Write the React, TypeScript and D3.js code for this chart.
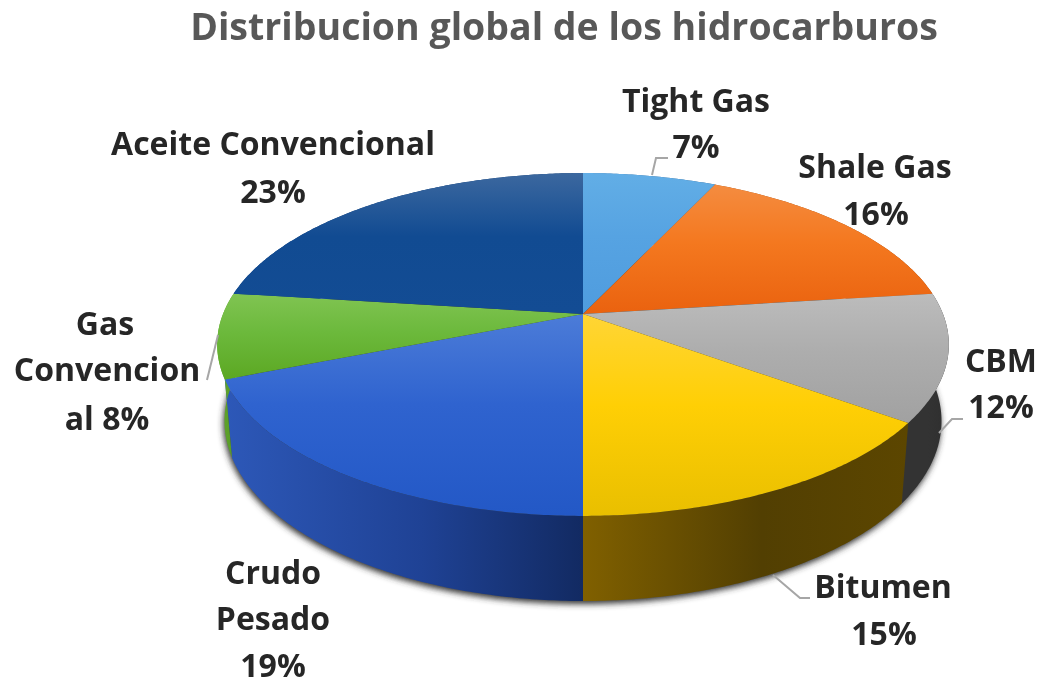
import React from "react";
import * as d3 from "d3";

const categories = ["Tight Gas", "Shale Gas", "CBM", "Bitumen", "Crudo Pesado", "Gas Convencional", "Aceite Convencional"];
const values = [7, 16, 12, 15, 19, 8, 23];
const titleText = "Distribucion global de los hidrocarburos";
const topStops = [
  ["#62aee6", "#56a3e2", "#4f9cde"],
  ["#f48c40", "#f4781f", "#ea620f"],
  ["#bcbcbc", "#adadad", "#a1a1a1"],
  ["#ffd535", "#ffcf05", "#e9bf00"],
  ["#4c7cd8", "#2f63cf", "#2358c6"],
  ["#80c452", "#6cb93c", "#5ca823"],
  ["#3c689f", "#114b92", "#134c94"],
];
const wallStops = [
  ["#3d7eb8", "#30689c", "#2a5c8c"],
  ["#a84e10", "#9a4409", "#8a3d06"],
  ["#333333", "#333333", "#2e2e2e"],
  ["#806000", "#523f02", "#5c4600"],
  ["#2d58b8", "#1f4295", "#122a62"],
  ["#62a82d", "#5a9e28", "#4e8c20"],
  ["#0f3f7c", "#0d3a72", "#0c3468"],
];
const labels = [
  { lines: ["Tight Gas", "7%"], x: [696, 696], y: [112, 158] },
  { lines: ["Shale Gas", "16%"], x: [875, 876], y: [178, 225] },
  { lines: ["CBM", "12%"], x: [1001, 1001], y: [372, 418] },
  { lines: ["Bitumen", "15%"], x: [883, 884], y: [598, 645] },
  { lines: ["Crudo", "Pesado", "19%"], x: [273, 273, 273], y: [584, 630, 677] },
  { lines: ["Gas", "Convencion", "al 8%"], x: [105, 107, 107], y: [335, 381, 430] },
  { lines: ["Aceite Convencional", "23%"], x: [273, 273], y: [155, 203] },
];
const leaders = [
  [[652, 175], [656, 158], [668, 158]],
  [[939, 433], [952, 419], [963, 419]],
  [[773, 575], [800, 598], [810, 598]],
  [[218, 335], [207, 380]],
];

const CX = 583;
const CY = 314;
const K = 0.1778;
const A = 360;
const B = 166;
const project = (ang: number): [number, number] => {
  const X = Math.sin(ang);
  const Y = -Math.cos(ang);
  const d = 1 - K * Y;
  return [(A * X) / d, (B * Y) / d];
};
const topPt = (ang: number): [number, number] => {
  const [x, y] = project(ang);
  return [CX + x, CY + y];
};
const botPt = (ang: number): [number, number] => {
  const [x, y] = project(ang);
  return [CX + 0.98 * x, CY + 1.05 * y + 75];
};
const sample = (a0: number, a1: number, f: (a: number) => [number, number]) => {
  const n = Math.max(2, Math.ceil((a1 - a0) / 0.01));
  return d3.range(n + 1).map((i) => f(a0 + ((a1 - a0) * i) / n));
};

const line = d3.line();
const slices = d3.pie<number>().sort(null).startAngle(0).endAngle(2 * Math.PI)(values);
const fullBottom = sample(0, 2 * Math.PI, botPt);

export default function App() {
  return (
    <svg width={1042} height={684} style={{ position: "absolute", left: 0, top: 0, background: "#fff" }}
      fontFamily="'Open Sans', sans-serif">
      <defs>
        <filter id="shadow" x="-10%" y="-10%" width="120%" height="120%">
          <feGaussianBlur stdDeviation="3" />
        </filter>
        <filter id="soft" x="-5%" y="-20%" width="110%" height="140%">
          <feGaussianBlur stdDeviation="0.45" />
        </filter>
        {slices.map((s, i) => (
          <React.Fragment key={i}>
            <linearGradient id={`top${i}`} x1="0" y1="0" x2="0" y2="1">
              <stop offset="0" stopColor={topStops[i][0]} />
              <stop offset="0.45" stopColor={topStops[i][1]} />
              <stop offset="1" stopColor={topStops[i][2]} />
            </linearGradient>
            <linearGradient id={`wall${i}`} x1="0" y1="0" x2="1" y2="0">
              <stop offset="0" stopColor={wallStops[i][0]} />
              <stop offset="0.55" stopColor={wallStops[i][1]} />
              <stop offset="1" stopColor={wallStops[i][2]} />
            </linearGradient>
          </React.Fragment>
        ))}
      </defs>

      <path d={line(fullBottom) + "Z"} fill="#333" filter="url(#shadow)" transform="translate(-1,3)" />

      {slices.map((s, i) => {
        const pts = [...sample(s.startAngle, s.endAngle, topPt), ...sample(s.startAngle, s.endAngle, botPt).reverse()];
        return <path key={i} d={line(pts) + "Z"} fill={`url(#wall${i})`} />;
      })}

      {slices.map((s, i) => {
        const pts: [number, number][] = [[CX, CY], ...sample(s.startAngle, s.endAngle, topPt)];
        return <path key={i} d={line(pts) + "Z"} fill={`url(#top${i})`} aria-label={categories[i]} />;
      })}

      {leaders.map((l, i) => (
        <path key={i} d={line(l as [number, number][]) || ""} fill="none" stroke="#a6a6a6" strokeWidth={2} />
      ))}

      <g filter="url(#soft)">
        <text x={564} y={40} textAnchor="middle" fontSize={37.5} fontWeight={700} fill="#595959">{titleText}</text>
        {labels.map((l, i) =>
          l.lines.map((t, j) => (
            <text key={`${i}-${j}`} x={l.x[j]} y={l.y[j]} textAnchor="middle" fontSize={32} fontWeight={700} fill="#262626">{t}</text>
          ))
        )}
      </g>
    </svg>
  );
}
